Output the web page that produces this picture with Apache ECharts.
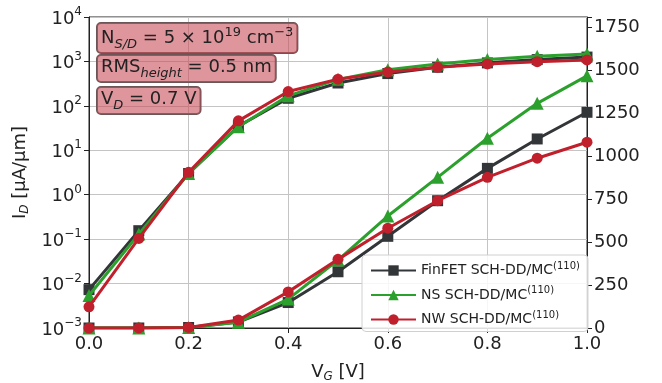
<!DOCTYPE html>
<html>
<head>
<meta charset="utf-8">
<script src="https://cdn.jsdelivr.net/npm/echarts@6/dist/echarts.min.js"></script>
<style>
  html, body { margin: 0; padding: 0; background: #fff; }
  #chart { width: 662px; height: 383px; }
</style>
</head>
<body>
<div id="chart"></div>
<script>
// gate voltage, V
const vg = [0, 0.1, 0.2, 0.3, 0.4, 0.5, 0.6, 0.7, 0.8, 0.9, 1.0];

// drain current, uA/um (same data drawn on the log and the linear axis)
const finfet = [0.0073, 0.155, 3.0, 35, 148, 327, 533, 740, 928, 1099, 1254];
const ns = [0.0054, 0.13, 3.0, 34, 168, 395, 651, 876, 1103, 1306, 1466];
const nw = [0.0030, 0.104, 3.2, 46, 210, 399, 580, 740, 876, 987, 1080];

const seriesNames = ['FinFET SCH-DD/MC', 'NS SCH-DD/MC', 'NW SCH-DD/MC'];
const seriesData = [finfet, ns, nw];
const colors = ['#333638', '#2ca02c', '#c0202c'];
const symbols = ['rect', 'triangle', 'circle'];

const FONT = 'DejaVu Sans';
const TXT = '#222';

const pair = (xs, ys) => xs.map((x, i) => [x, ys[i]]);

const series = [];
[0, 1].forEach((axis) => {
  seriesData.forEach((d, i) => {
    series.push({
      name: seriesNames[i],
      type: 'line',
      yAxisIndex: axis,
      data: pair(vg, d),
      symbol: symbols[i],
      symbolSize: symbols[i] === 'triangle' ? 13 : 11,
      lineStyle: { color: colors[i], width: 3 },
      itemStyle: { color: colors[i] },
      z: 2 + i,
    });
  });
});

const chart = echarts.init(document.getElementById('chart'));

// text boxes in the top left corner
const boxStyle = {
  fill: TXT,
  font: '18px "DejaVu Sans"',
  backgroundColor: 'rgba(200,78,90,0.6)',
  borderColor: '#6b5556',
  borderWidth: 1,
  borderRadius: 4,
  padding: [3, 4, 2, 4],
};
const boxRich = {
  n: { fontSize: 18, fontFamily: FONT, color: TXT, padding: [0, 0, 4, 0], verticalAlign: 'bottom' },
  sub: { fontSize: 13, fontFamily: FONT, fontStyle: 'italic', color: TXT, verticalAlign: 'bottom' },
  sup: { fontSize: 13, fontFamily: FONT, color: TXT, padding: [0, 0, 12, 0], verticalAlign: 'bottom' },
};

const nameStyle = {
  fontSize: 18,
  color: TXT,
  rich: { sub: { fontSize: 12, fontStyle: 'italic', color: TXT, padding: [9, 0, 0, 0] } },
};

chart.setOption({
  animation: false,
  textStyle: { fontFamily: FONT },
  grid: {
    left: 89, right: 75, top: 17, bottom: 55,
    outerBoundsMode: 'none',
    containLabel: false,
    show: true, borderColor: '#222', borderWidth: 1,
  },
  legend: {
    data: seriesNames,
    orient: 'vertical',
    left: 362,
    top: 255,
    itemWidth: 45,
    itemHeight: 13,
    itemGap: 8,
    padding: [6, 8, 5, 8],
    backgroundColor: 'rgba(255,255,255,0.85)',
    borderColor: '#d0d0d0',
    borderWidth: 1,
    borderRadius: 4,
    formatter: (name) => name + '{s|(110)}',
    textStyle: {
      fontSize: 14,
      fontFamily: FONT,
      color: TXT,
      rich: { s: { fontSize: 10, fontFamily: FONT, color: TXT, padding: [0, 0, 9, 0] } },
    },
  },
  xAxis: {
    type: 'value',
    min: 0,
    max: 1,
    interval: 0.2,
    name: 'V{sub|G} [V]',
    nameLocation: 'middle',
    nameGap: 34,
    nameTextStyle: nameStyle,
    axisLine: { show: true, lineStyle: { color: '#222' } },
    axisTick: { show: true, length: 5, lineStyle: { color: '#222' } },
    axisLabel: { fontSize: 18, color: TXT, margin: 7, formatter: (v) => v.toFixed(1) },
    splitLine: { show: true, lineStyle: { color: '#c4c4c4', width: 1 } },
  },
  yAxis: [
    {
      type: 'log',
      logBase: 10,
      min: 0.001,
      max: 10000,
      name: 'I{sub|D} [μA/μm]',
      nameLocation: 'middle',
      nameGap: 58,
      nameTextStyle: nameStyle,
      axisLine: { show: true, lineStyle: { color: '#222' } },
      axisTick: { show: true, length: 5, lineStyle: { color: '#222' } },
      axisLabel: {
        fontSize: 18,
        color: TXT,
        margin: 7,
        formatter: (v) => {
          const e = Math.round(Math.log10(v));
          return '{b|10}{sup|' + (e < 0 ? '−' + -e : e) + '}';
        },
        rich: {
          b: { fontSize: 18, fontFamily: FONT, color: TXT, verticalAlign: 'bottom' },
          sup: { fontSize: 12, fontFamily: FONT, color: TXT, padding: [0, 0, 10, 0], verticalAlign: 'bottom' },
        },
      },
      splitLine: { show: true, lineStyle: { color: '#c4c4c4', width: 1 } },
    },
    {
      type: 'value',
      min: 0,
      max: 1808,
      interval: 250,
      position: 'right',
      axisLine: { show: true, lineStyle: { color: '#222' } },
      axisTick: { show: true, length: 5, lineStyle: { color: '#222' } },
      axisLabel: {
        fontSize: 18,
        color: TXT,
        margin: 7,
        formatter: (v) => (v % 250 === 0 ? String(v) : ''),
      },
      splitLine: { show: false },
    },
  ],
  graphic: [
    {
      type: 'text',
      left: 96,
      top: 22,
      z: 100,
      style: Object.assign({}, boxStyle, {
        text: '{n|N}{sub|S/D}{n| = 5 × 10}{sup|19}{n| cm}{sup|−3}',
        rich: boxRich,
      }),
    },
    {
      type: 'text',
      left: 96,
      top: 54,
      z: 100,
      style: Object.assign({}, boxStyle, {
        text: '{n|RMS}{sub|height}{n| = 0.5 nm}',
        rich: boxRich,
      }),
    },
    {
      type: 'text',
      left: 96,
      top: 86,
      z: 100,
      style: Object.assign({}, boxStyle, {
        text: '{n|V}{sub|D}{n| = 0.7 V}',
        rich: boxRich,
      }),
    },
  ],
  series: series,
});
</script>
</body>
</html>
